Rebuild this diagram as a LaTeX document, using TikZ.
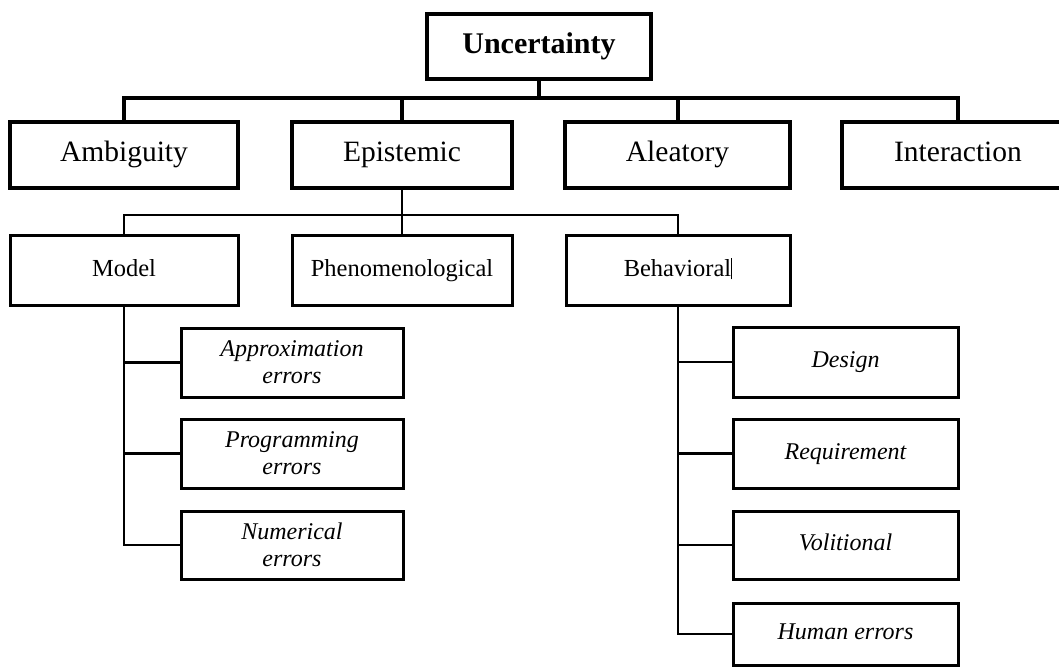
\documentclass[tikz,border=0pt]{standalone}
\usepackage{fontspec}
\setmainfont{Liberation Serif}
\begin{document}
\begin{tikzpicture}[x=1pt,y=-1pt,
  topbox/.style={draw=black,line width=4.5pt,rectangle,inner sep=0pt,align=center,
    text height=20.5pt,text depth=6.5pt,font=\fontsize{29.5}{33}\selectfont},
  midbox/.style={draw=black,line width=3pt,rectangle,inner sep=0pt,align=center,
    text height=17pt,text depth=5.4pt,font=\fontsize{24.5}{28}\selectfont},
  leafbox/.style={draw=black,line width=3pt,rectangle,inner sep=0pt,align=center,
    font=\fontsize{24}{27}\selectfont\itshape},
  oneleaf/.style={leafbox,text height=16.6pt,text depth=5.3pt},
  thickwire/.style={line width=4pt},
  thinwire/.style={line width=2.5pt}]
\useasboundingbox (0,0) rectangle (1059,668);
\clip (0,0) rectangle (1059,668);

% root
\node[topbox,font=\fontsize{30}{34}\selectfont\bfseries,minimum width=224pt,minimum height=65pt] (unc) at (539,46.5) {Uncertainty};

% first level
\node[topbox,minimum width=228pt,minimum height=66pt] (amb) at (124,155) {Ambiguity};
\node[topbox,minimum width=220pt,minimum height=66pt] (epi) at (402,155) {Epistemic};
\node[topbox,minimum width=225pt,minimum height=66pt] (ale) at (677.5,155) {Aleatory};
\node[topbox,minimum width=232pt,minimum height=66pt] (int) at (958,155) {Interaction};

% epistemic subtypes
\node[midbox,minimum width=228pt,minimum height=69pt] (mod) at (124,270.5) {Model};
\node[midbox,minimum width=220pt,minimum height=69pt] (phe) at (402,270.5) {Phenomenological};
\node[midbox,minimum width=224pt,minimum height=69pt] (beh) at (678,270.5) {Behavioral\rule[-3pt]{1pt}{21pt}};

% model errors
\node[leafbox,minimum width=222pt,minimum height=69pt] (m1) at (292,362.5) {Approximation\\errors};
\node[leafbox,minimum width=222pt,minimum height=69pt] (m2) at (292,453.5) {Programming\\errors};
\node[leafbox,minimum width=222pt,minimum height=68pt] (m3) at (292,545) {Numerical\\errors};

% behavioral sources
\node[oneleaf,minimum width=225pt,minimum height=70pt] (b1) at (845.5,362) {Design};
\node[oneleaf,minimum width=225pt,minimum height=69pt] (b2) at (845.5,453.5) {Requirement};
\node[oneleaf,minimum width=225pt,minimum height=68pt] (b3) at (845.5,545) {Volitional};
\node[oneleaf,minimum width=225pt,minimum height=62pt] (b4) at (845.5,634) {Human errors};

% bus lines
\coordinate (busA) at (0,98);
\coordinate (busB) at (0,215);

\draw[thickwire] (unc.south) -- (unc.south |- busA);
\draw[thickwire] (amb.north) -- (amb.north |- busA) -| (int.north);
\draw[thickwire] (epi.north) -- (epi.north |- busA);
\draw[thickwire] (ale.north) -- (ale.north |- busA);

\draw[thinwire] (epi.south) -- (epi.south |- busB);
\draw[thinwire] (mod.north) -- (mod.north |- busB) -| (beh.north);
\draw[thinwire] (phe.north) -- (phe.north |- busB);

\draw[thinwire] (mod.south) |- (m3.west);
\draw[thinwire] (mod.south |- m1.west) -- (m1.west);
\draw[thinwire] (mod.south |- m2.west) -- (m2.west);

\draw[thinwire] (beh.south) |- (b4.west);
\draw[thinwire] (beh.south |- b1.west) -- (b1.west);
\draw[thinwire] (beh.south |- b2.west) -- (b2.west);
\draw[thinwire] (beh.south |- b3.west) -- (b3.west);
\end{tikzpicture}
\end{document}
